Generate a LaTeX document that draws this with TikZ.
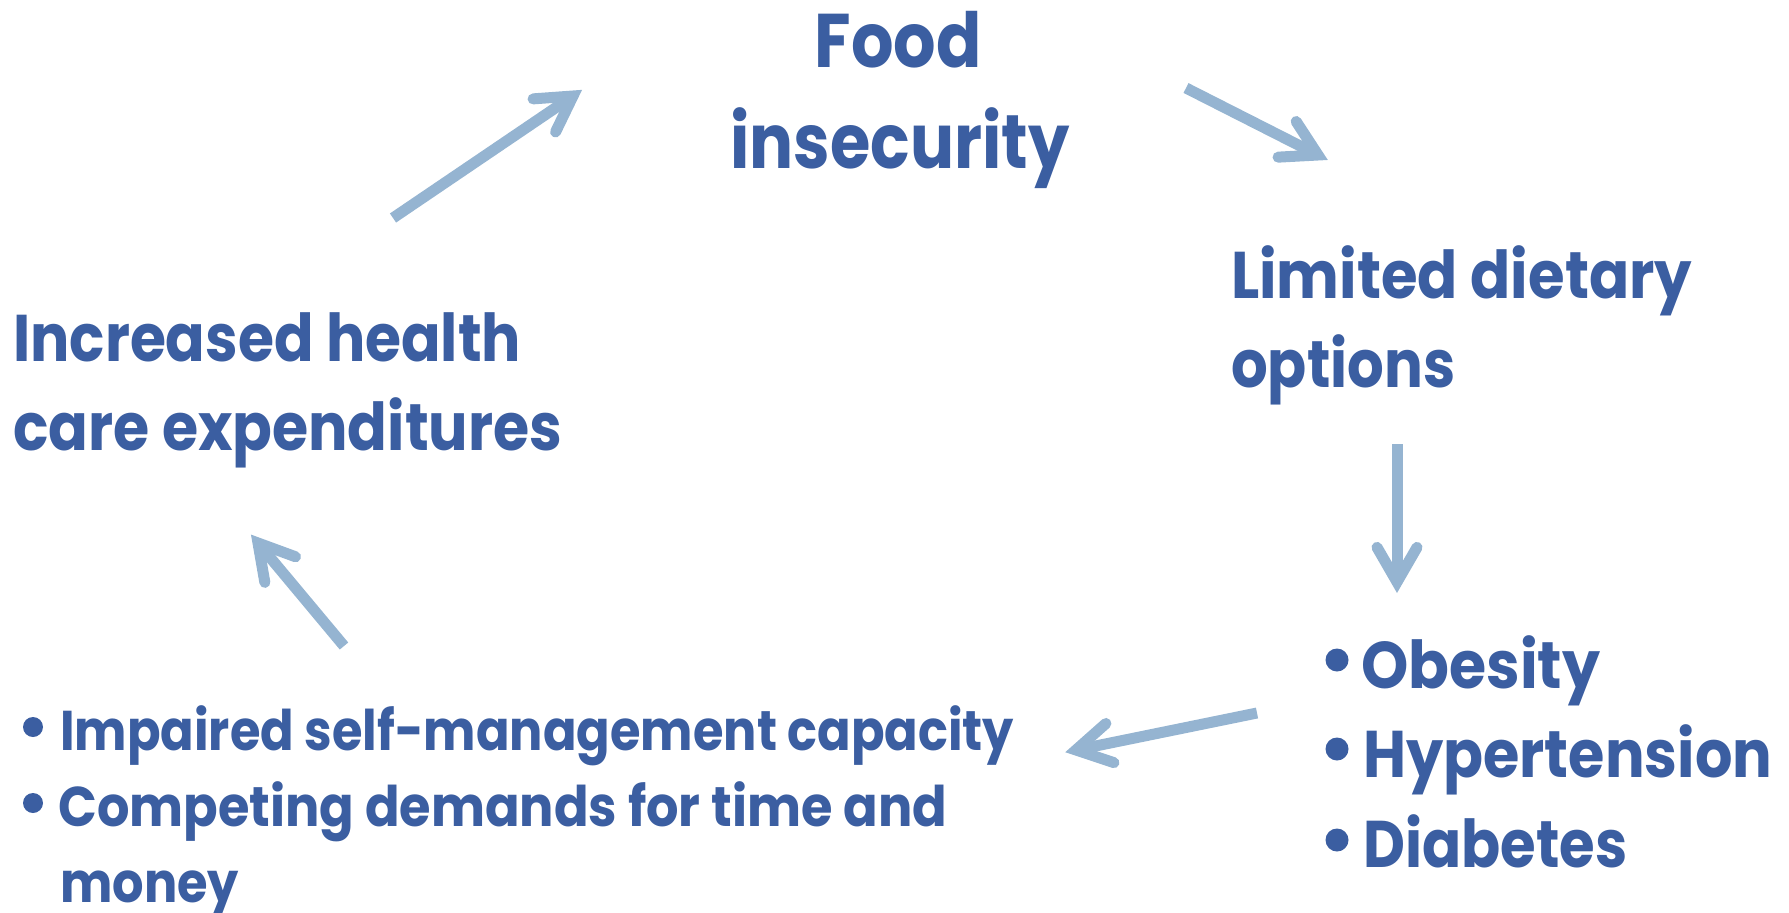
\documentclass[tikz,border=0pt]{standalone}
\usepackage{fontspec}
\setmainfont{Poppins}
\usetikzlibrary{calc}
\definecolor{txtblue}{RGB}{59,94,161}
\definecolor{arrblue}{RGB}{149,180,209}
\tikzset{
  lbl/.style={text=txtblue, inner sep=0pt, anchor=base west},
  big/.style={lbl, font=\bfseries\fontsize{76}{76}\selectfont, anchor=base},
  mid/.style={lbl, font=\bfseries\fontsize{66}{66}\selectfont},
  sml/.style={lbl, font=\bfseries\fontsize{56}{56}\selectfont},
  dotA/.style={circle, fill=txtblue, inner sep=0pt, minimum size=23pt},
  dotB/.style={circle, fill=txtblue, inner sep=0pt, minimum size=20pt},
  shaft/.style={draw=arrblue, line width=11pt, line cap=butt},
  headstroke/.style={draw=arrblue, line width=11pt, line cap=round, line join=miter},
}
\newcommand\fitw[2]{\resizebox{#1pt}{\height}{#2}}
\newcommand\fatarrow[2]{%
  \draw[shaft] (#1) -- (#2);
  \draw[headstroke] ($(#2)!40pt!30:(#1)$) -- (#2) -- ($(#2)!40pt!-30:(#1)$);
}
\begin{document}
\begin{tikzpicture}[x=1pt,y=-1pt]
\useasboundingbox (0,0) rectangle (1789,913);
% texts
\node[big] (food) at (898,67) {\fitw{167}{Food}};
\node[big] (insec) at (900,168) {\fitw{339}{insecurity}};
\node[mid] (lim1) at (1231,298) {\fitw{461}{Limited dietary}};
\node[mid] (lim2) at (1231,387) {\fitw{224}{options}};
\node[mid] (inc1) at (13,361) {\fitw{508}{Increased health}};
\node[mid] (inc2) at (13,450) {\fitw{549}{care expenditures}};
\node[mid] (ob) at (1361,688) {\fitw{239}{Obesity}};
\node[mid] (hyp) at (1363,777) {\fitw{409}{Hypertension}};
\node[mid] (dia) at (1363,867) {\fitw{264}{Diabetes}};
\node[dotA] (b1) at (1337,660) {};
\node[dotA] (b2) at (1337,749) {};
\node[dotA] (b3) at (1337,840) {};
\node[sml] (imp) at (60,750) {\fitw{954}{Impaired self-management capacity}};
\node[sml] (comp) at (58,826) {\fitw{889}{Competing demands for time and}};
\node[sml] (mon) at (60,902) {\fitw{179}{money}};
\node[dotB] (b4) at (33,727) {};
\node[dotB] (b5) at (33,803) {};
% arrows
\coordinate (a1t) at (393,218); \coordinate (a1h) at (573,96);
\coordinate (a2t) at (1186,88); \coordinate (a2h) at (1318,155);
\coordinate (a3t) at (1397,444); \coordinate (a3h) at (1397,582);
\coordinate (a4t) at (1257,713); \coordinate (a4h) at (1076,750);
\coordinate (a5t) at (344,646); \coordinate (a5h) at (258,543);
\fatarrow{a1t}{a1h}
\fatarrow{a2t}{a2h}
\fatarrow{a3t}{a3h}
\fatarrow{a4t}{a4h}
\fatarrow{a5t}{a5h}
\end{tikzpicture}
\end{document}
